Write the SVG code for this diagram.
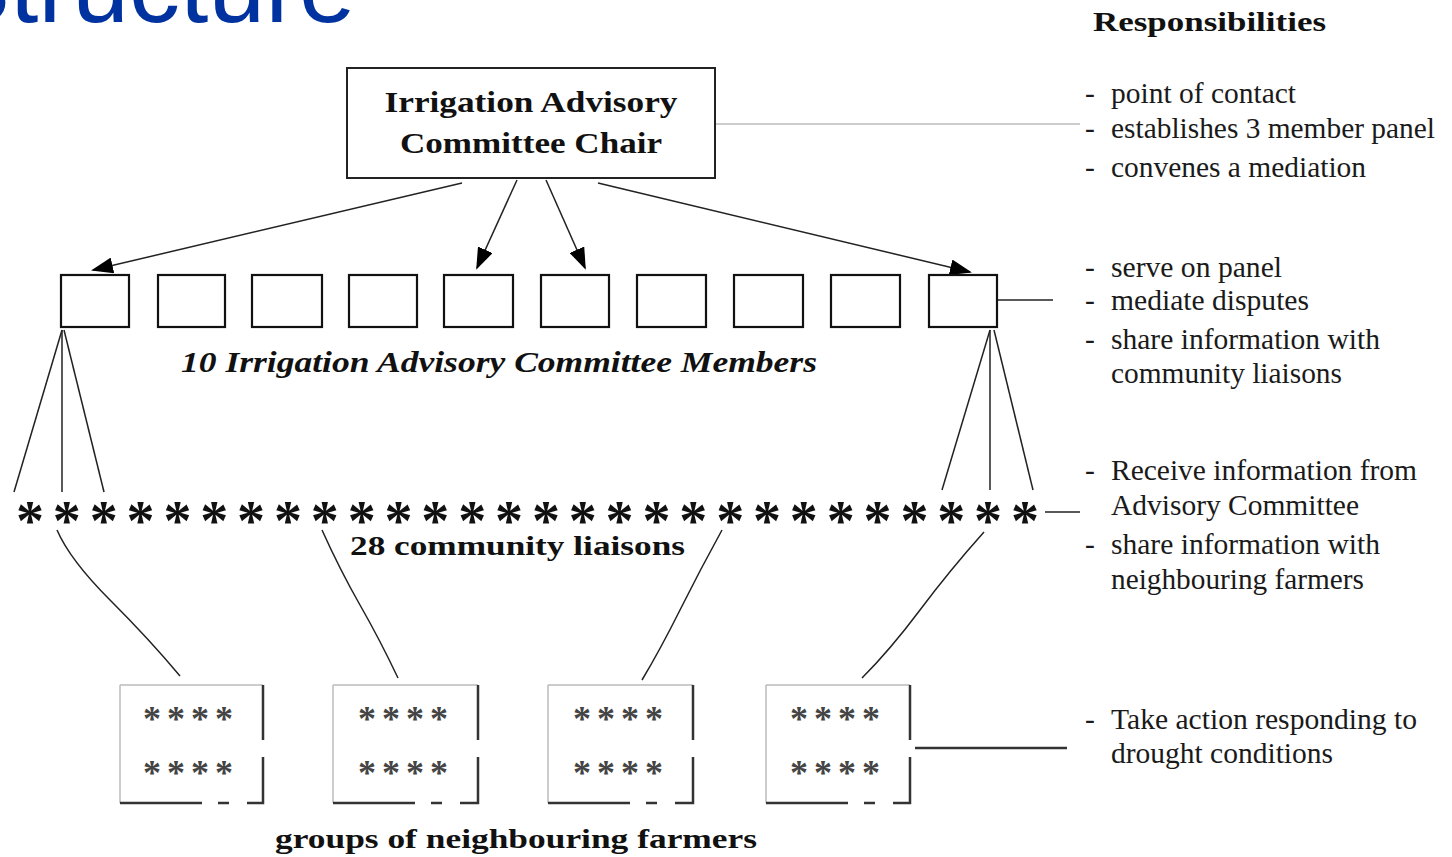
<svg xmlns="http://www.w3.org/2000/svg" width="1452" height="857" viewBox="0 0 1452 857">
<style>
.serif{font-family:"Liberation Serif","DejaVu Serif",serif;fill:#111}
.b{font-weight:bold}
.resp{font-family:"Liberation Serif","DejaVu Serif",serif;font-size:29.5px;fill:#1a1a1a}
.box{fill:#fff;stroke:#111;stroke-width:2.2}
.ln{fill:none;stroke:#222;stroke-width:1.5}
.gl{fill:none;stroke:#bbb;stroke-width:1.5}
.dk{fill:none;stroke:#333;stroke-width:2.5}
.ast{font-family:"Liberation Serif","DejaVu Serif",serif;font-weight:bold;fill:#111}
.ast2{font-family:"Liberation Serif","DejaVu Serif",serif;font-weight:bold;fill:#444}
</style>
<defs>
<marker id="ah" markerWidth="22" markerHeight="16" refX="20" refY="8" orient="auto" markerUnits="userSpaceOnUse">
<path d="M0,0 L22,8 L0,16 Z" fill="#000"/>
</marker>
</defs>
<rect width="1452" height="857" fill="#fff"/>
<text x="-58" y="22" font-family="Liberation Sans, Arial, sans-serif" font-size="102" fill="#0033a0">Structure</text>

<g id="connectors">
<line class="ln" x1="462" y1="183" x2="93" y2="270" marker-end="url(#ah)"/>
<line class="ln" x1="517" y1="180" x2="477" y2="268" marker-end="url(#ah)"/>
<line class="ln" x1="546" y1="180" x2="585" y2="268" marker-end="url(#ah)"/>
<line class="ln" x1="598" y1="183" x2="970" y2="272" marker-end="url(#ah)"/>
<line class="gl" x1="716" y1="124" x2="1080" y2="124"/>
<line class="ln" x1="998" y1="300" x2="1053" y2="300"/>
<line class="ln" x1="62" y1="330" x2="14" y2="492"/>
<line class="ln" x1="62" y1="330" x2="62" y2="492"/>
<line class="ln" x1="64" y1="330" x2="104" y2="492"/>
<line class="ln" x1="990" y1="330" x2="942" y2="490"/>
<line class="ln" x1="990" y1="330" x2="990" y2="490"/>
<line class="ln" x1="994" y1="330" x2="1033" y2="490"/>
<line class="ln" x1="1045" y1="512" x2="1080" y2="512"/>
<path class="ln" d="M57,530 Q70,560 110,600 T180,676"/>
<path class="ln" d="M322,530 Q340,570 360,605 T398,678"/>
<path class="ln" d="M722,530 Q700,570 680,610 T642,680"/>
<path class="ln" d="M984,532 Q950,570 920,610 T862,678"/>
<line class="dk" x1="915" y1="748" x2="1067" y2="748"/>
</g>

<g id="chair">
<rect x="347" y="68" width="368" height="110" fill="#fff" stroke="#222" stroke-width="2"/>
<text class="serif b" x="531" y="112" font-size="29" text-anchor="middle" textLength="293" lengthAdjust="spacingAndGlyphs">Irrigation Advisory</text>
<text class="serif b" x="531" y="153" font-size="29" text-anchor="middle" textLength="262" lengthAdjust="spacingAndGlyphs">Committee Chair</text>
</g>

<g id="members">
<rect class="box" x="61" y="275" width="68" height="52"/>
<rect class="box" x="158" y="275" width="67" height="52"/>
<rect class="box" x="252" y="275" width="70" height="52"/>
<rect class="box" x="349" y="275" width="68" height="52"/>
<rect class="box" x="444" y="275" width="69" height="52"/>
<rect class="box" x="541" y="275" width="68" height="52"/>
<rect class="box" x="637" y="275" width="69" height="52"/>
<rect class="box" x="734" y="275" width="69" height="52"/>
<rect class="box" x="831" y="275" width="69" height="52"/>
<rect class="box" x="929" y="275" width="68" height="52"/>
<text class="serif b" x="181" y="372" font-size="29" font-style="italic" textLength="636" lengthAdjust="spacingAndGlyphs">10 Irrigation Advisory Committee Members</text>
</g>

<g id="liaisons">
<text class="ast" y="540" font-size="56" text-anchor="middle" x="30 66.85 103.7 140.55 177.4 214.25 251.1 287.95 324.8 361.65 398.5 435.35 472.2 509.05 545.9 582.75 619.6 656.45 693.3 730.15 767 803.85 840.7 877.55 914.4 951.25 988.1 1025">****************************</text>
<text class="serif b" x="350" y="555" font-size="28" textLength="335" lengthAdjust="spacingAndGlyphs">28 community liaisons</text>
</g>

<g id="group1">
<line class="gl" x1="120" y1="685" x2="263" y2="685"/>
<line class="gl" x1="120" y1="685" x2="120" y2="803"/>
<path class="dk" d="M120,803 H202 M218,803 H229 M247,803 H263 V757 M263,740 V685"/>
<text class="ast2" font-size="36" text-anchor="middle" x="152 176 200 224" y="731">****</text>
<text class="ast2" font-size="36" text-anchor="middle" x="152 176 200 224" y="785">****</text>
</g>
<g id="group2">
<line class="gl" x1="333" y1="685" x2="478" y2="685"/>
<line class="gl" x1="333" y1="685" x2="333" y2="803"/>
<path class="dk" d="M333,803 H415 M431,803 H442 M460,803 H478 V757 M478,740 V685"/>
<text class="ast2" font-size="36" text-anchor="middle" x="367 391 415 439" y="731">****</text>
<text class="ast2" font-size="36" text-anchor="middle" x="367 391 415 439" y="785">****</text>
</g>
<g id="group3">
<line class="gl" x1="548" y1="685" x2="693" y2="685"/>
<line class="gl" x1="548" y1="685" x2="548" y2="803"/>
<path class="dk" d="M548,803 H630 M646,803 H657 M675,803 H693 V757 M693,740 V685"/>
<text class="ast2" font-size="36" text-anchor="middle" x="582 606 630 654" y="731">****</text>
<text class="ast2" font-size="36" text-anchor="middle" x="582 606 630 654" y="785">****</text>
</g>
<g id="group4">
<line class="gl" x1="766" y1="685" x2="910" y2="685"/>
<line class="gl" x1="766" y1="685" x2="766" y2="803"/>
<path class="dk" d="M766,803 H848 M864,803 H875 M893,803 H910 V757 M910,740 V685"/>
<text class="ast2" font-size="36" text-anchor="middle" x="799 823 847 871" y="731">****</text>
<text class="ast2" font-size="36" text-anchor="middle" x="799 823 847 871" y="785">****</text>
</g>
<text class="serif b" x="275" y="848" font-size="28" textLength="482" lengthAdjust="spacingAndGlyphs">groups of neighbouring farmers</text>

<g id="responsibilities">
<text class="serif b" x="1093" y="31" font-size="27" textLength="233" lengthAdjust="spacingAndGlyphs">Responsibilities</text>
<g class="resp">
<text x="1085" y="103">-</text><text x="1111" y="103" textLength="185" lengthAdjust="spacingAndGlyphs">point of contact</text>
<text x="1085" y="138">-</text><text x="1111" y="138" textLength="324" lengthAdjust="spacingAndGlyphs">establishes 3 member panel</text>
<text x="1085" y="177">-</text><text x="1111" y="177" textLength="255" lengthAdjust="spacingAndGlyphs">convenes a mediation</text>
<text x="1085" y="277">-</text><text x="1111" y="277" textLength="171" lengthAdjust="spacingAndGlyphs">serve on panel</text>
<text x="1085" y="310">-</text><text x="1111" y="310" textLength="198" lengthAdjust="spacingAndGlyphs">mediate disputes</text>
<text x="1085" y="349">-</text><text x="1111" y="349" textLength="269" lengthAdjust="spacingAndGlyphs">share information with</text>
<text x="1111" y="383" textLength="231" lengthAdjust="spacingAndGlyphs">community liaisons</text>
<text x="1085" y="480">-</text><text x="1111" y="480" textLength="306" lengthAdjust="spacingAndGlyphs">Receive information from</text>
<text x="1111" y="515" textLength="248" lengthAdjust="spacingAndGlyphs">Advisory Committee</text>
<text x="1085" y="554">-</text><text x="1111" y="554" textLength="269" lengthAdjust="spacingAndGlyphs">share information with</text>
<text x="1111" y="589" textLength="253" lengthAdjust="spacingAndGlyphs">neighbouring farmers</text>
<text x="1085" y="729">-</text><text x="1111" y="729" textLength="306" lengthAdjust="spacingAndGlyphs">Take action responding to</text>
<text x="1111" y="763" textLength="222" lengthAdjust="spacingAndGlyphs">drought conditions</text>
</g>
</g>
</svg>
